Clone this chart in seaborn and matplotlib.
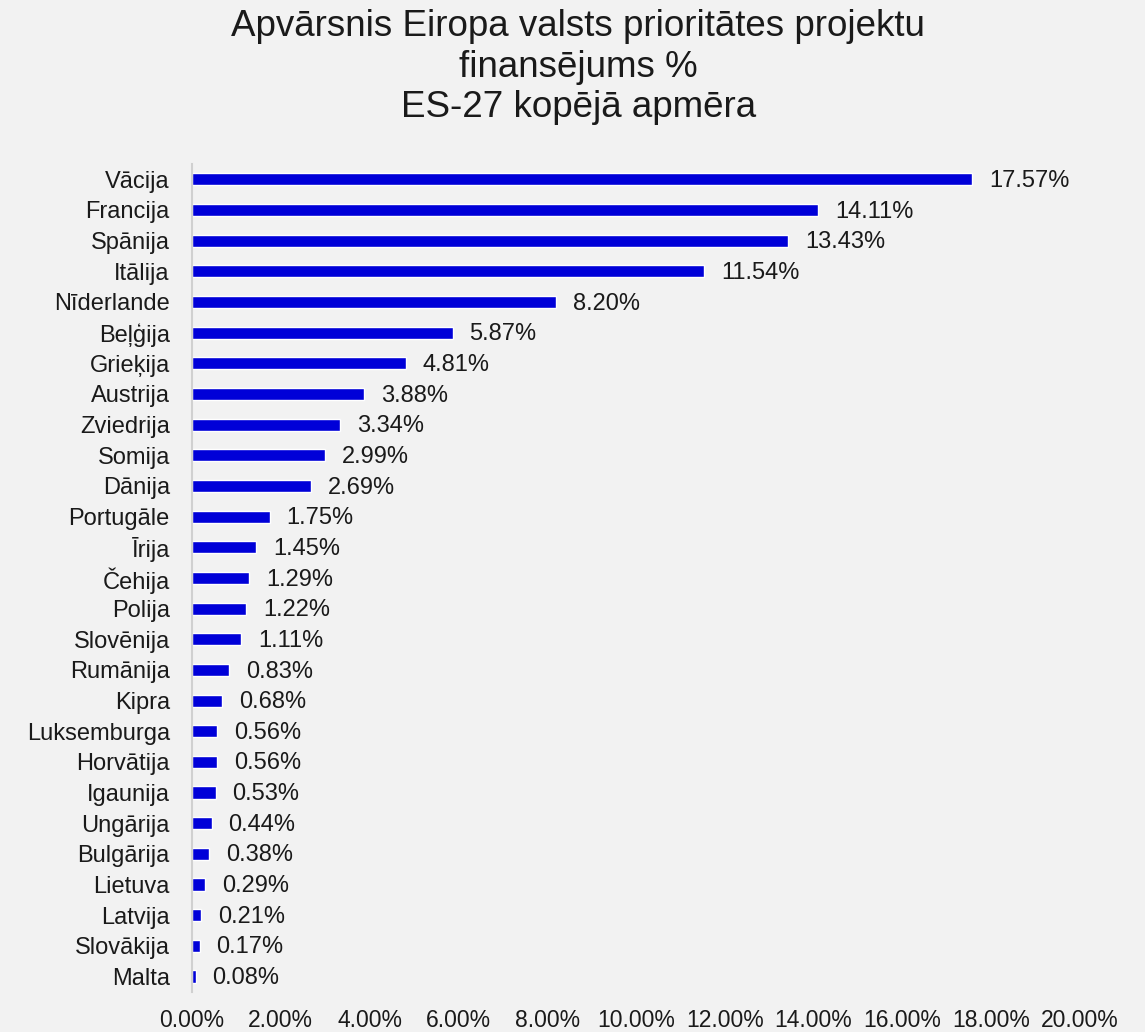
import matplotlib
matplotlib.use("Agg")
import matplotlib.pyplot as plt
import seaborn as sns
import pandas as pd

countries = ["Vācija", "Francija", "Spānija", "Itālija", "Nīderlande", "Beļģija", "Grieķija",
             "Austrija", "Zviedrija", "Somija", "Dānija", "Portugāle", "Īrija", "Čehija",
             "Polija", "Slovēnija", "Rumānija", "Kipra", "Luksemburga", "Horvātija",
             "Igaunija", "Ungārija", "Bulgārija", "Lietuva", "Latvija", "Slovākija", "Malta"]
values = [17.57, 14.11, 13.43, 11.54, 8.20, 5.87, 4.81, 3.88, 3.34, 2.99, 2.69, 1.75, 1.45,
          1.29, 1.22, 1.11, 0.83, 0.68, 0.56, 0.56, 0.53, 0.44, 0.38, 0.29, 0.21, 0.17, 0.08]
xticks = [0, 2, 4, 6, 8, 10, 12, 14, 16, 18, 20]

df = pd.DataFrame({"country": countries, "value": values})

sns.set_theme(style="white")
plt.rcParams["font.family"] = ["Liberation Sans", "DejaVu Sans"]
bg = "#f2f2f2"
fig = plt.figure(figsize=(11.45, 10.32), dpi=100, facecolor=bg)
ax = fig.add_axes([0.1677, 0.0388, 0.7755, 0.8023])
ax.set_facecolor(bg)

sns.barplot(data=df, x="value", y="country", orient="h", color="#0000d8",
            saturation=1, width=0.4, ax=ax)

for i, v in enumerate(values):
    ax.text(v + 0.38, i + 0.05, f"{v:.2f}%", va="center", ha="left", fontsize=17, color="#1a1a1a")

ax.set_xlim(0, 20)
ax.set_xticks(xticks)
ax.set_xticklabels([f"{t:.2f}%" for t in xticks], fontsize=16.5, color="#1a1a1a")
ax.tick_params(axis="x", length=0, pad=12)
ax.tick_params(axis="y", length=0, pad=16, labelsize=17, labelcolor="#1a1a1a")
ax.set_xlabel("")
ax.set_ylabel("")
for s in ["top", "right", "bottom"]:
    ax.spines[s].set_visible(False)
ax.spines["left"].set_color("#d0d0d0")
ax.spines["left"].set_linewidth(1.5)

fig.suptitle("Apvārsnis Eiropa valsts prioritātes projektu\nfinansējums %\nES-27 kopējā apmēra",
             x=0.505, y=0.991, fontsize=26.5, color="#1a1a1a", linespacing=1.2)

fig.savefig("out.png", dpi=100, facecolor=bg)
